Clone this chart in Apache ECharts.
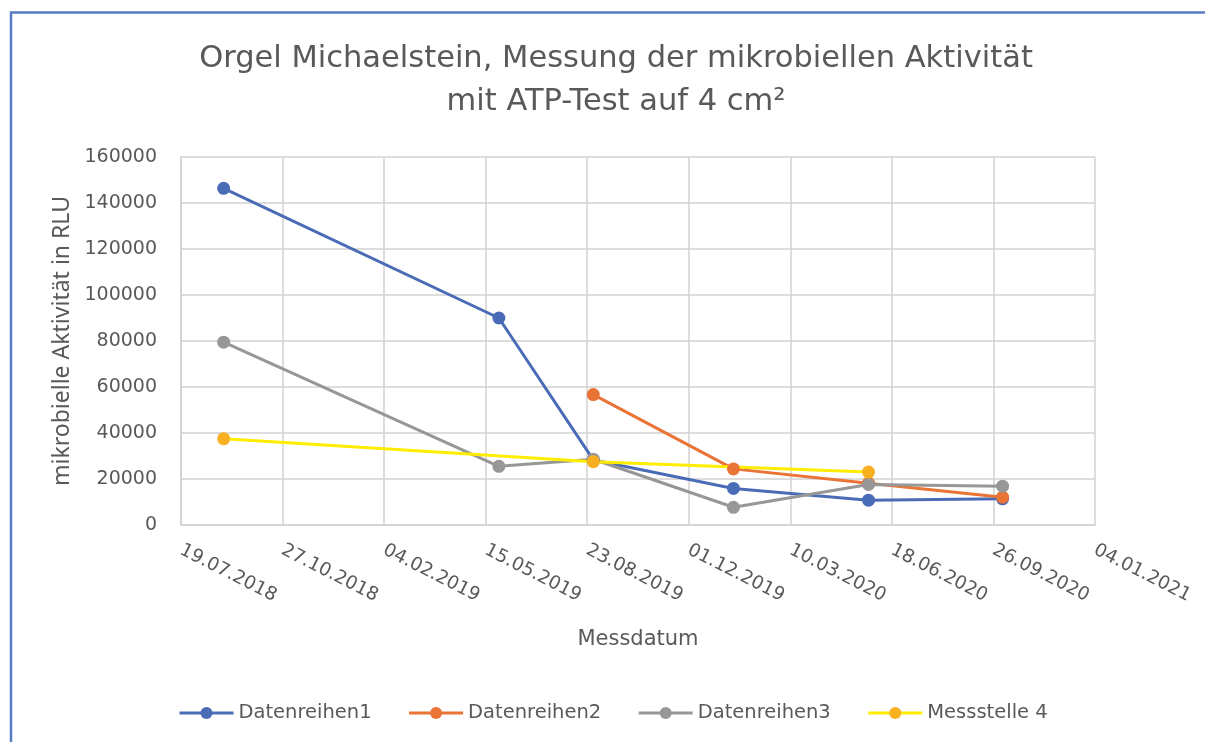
<!DOCTYPE html>
<html>
<head>
<meta charset="utf-8">
<title>Orgel Michaelstein – ATP-Test</title>
<script src="https://cdn.jsdelivr.net/npm/echarts@6/dist/echarts.min.js"></script>
<style>
  html, body { margin: 0; padding: 0; background: #ffffff; }
  #chart { width: 1205px; height: 742px; }
</style>
</head>
<body>
<div id="chart"></div>
<script>
// Measurement dates (DD.MM.YYYY) and RLU values per measuring series
const datesS1 = ['30.08.2018', '28.05.2019', '29.08.2019', '14.01.2020', '26.05.2020', '05.10.2020'];
const valuesS1 = [146400, 90000, 28300, 15900, 10800, 11400];

const datesS2 = ['29.08.2019', '14.01.2020', '26.05.2020', '05.10.2020'];
const valuesS2 = [56700, 24400, 18200, 12100];

const datesS3 = ['30.08.2018', '28.05.2019', '29.08.2019', '14.01.2020', '26.05.2020', '05.10.2020'];
const valuesS3 = [79500, 25500, 28600, 7700, 17600, 16900];

const datesS4 = ['30.08.2018', '29.08.2019', '26.05.2020'];
const valuesS4 = [37500, 27500, 23000];

const seriesNames = ['Datenreihen1', 'Datenreihen2', 'Datenreihen3', 'Messstelle 4'];

// Date axis range as spreadsheet serial day numbers (19.07.2018 = 43300)
const xMin = 43300, xMax = 44200, xStep = 100;
const yMin = 0, yMax = 160000, yStep = 20000;

const EPOCH = Date.UTC(1899, 11, 30);
const DAY = 86400000;
function toSerial(s) {
  const [d, m, y] = s.split('.').map(Number);
  return Math.round((Date.UTC(y, m - 1, d) - EPOCH) / DAY);
}
function fromSerial(n) {
  const dt = new Date(EPOCH + n * DAY);
  const p = v => String(v).padStart(2, '0');
  return p(dt.getUTCDate()) + '.' + p(dt.getUTCMonth() + 1) + '.' + dt.getUTCFullYear();
}
function pairs(dates, values) {
  return dates.map((d, i) => [toSerial(d), values[i]]);
}

const TXT = '#595959';
const GRID = '#d2d2d2';
const FONT = 'DejaVu Sans';
const FONT_V = 'Noto Sans';

function lineSeries(name, data, lineColor, markColor) {
  return {
    name: name,
    type: 'line',
    data: data,
    symbol: 'circle',
    symbolSize: 13,
    lineStyle: { color: lineColor, width: 3 },
    itemStyle: { color: markColor },
    emphasis: { disabled: true },
    z: 2
  };
}

const chart = echarts.init(document.getElementById('chart'), null, { renderer: 'canvas' });
chart.setOption({
  animation: false,
  backgroundColor: '#ffffff',
  textStyle: { fontFamily: FONT, color: TXT },
  title: {
    text: 'Orgel Michaelstein, Messung der mikrobiellen Aktivität\nmit ATP-Test auf 4 cm²',
    left: 611,
    top: 33,
    textAlign: 'center',
    textStyle: { fontFamily: FONT, fontSize: 30.5, fontWeight: 'normal', color: TXT, lineHeight: 43 }
  },
  legend: {
    data: seriesNames,
    bottom: 14,
    left: 173,
    itemWidth: 54,
    itemHeight: 15,
    itemGap: 36,
    lineStyle: { width: 3 },
    textStyle: { fontFamily: FONT, fontSize: 19.5, color: TXT }
  },
  grid: { left: 181, right: 110, top: 157, bottom: 217, containLabel: false },
  xAxis: {
    type: 'value',
    min: xMin, max: xMax, interval: xStep,
    name: 'Messdatum',
    nameLocation: 'middle',
    nameGap: 104,
    nameTextStyle: { fontFamily: FONT, fontSize: 21, color: TXT },
    axisLine: { show: true, lineStyle: { color: GRID, width: 1.5 } },
    axisTick: { show: false },
    splitLine: { show: true, lineStyle: { color: GRID, width: 1.5 } },
    axisLabel: {
      rotate: -27,
      margin: 24,
      fontFamily: FONT, fontSize: 18.5, color: TXT,
      showMinLabel: true, showMaxLabel: true,
      formatter: v => fromSerial(v)
    }
  },
  yAxis: {
    type: 'value',
    min: yMin, max: yMax, interval: yStep,
    name: 'mikrobielle Aktivität in RLU',
    nameLocation: 'middle',
    nameGap: 106,
    nameTextStyle: { fontFamily: FONT_V, fontSize: 23, color: TXT },
    axisLine: { show: true, lineStyle: { color: GRID, width: 1.5 } },
    axisTick: { show: false },
    splitLine: { show: true, lineStyle: { color: GRID, width: 1.5 } },
    axisLabel: { margin: 24, fontFamily: FONT, fontSize: 19, color: TXT, formatter: v => String(v) }
  },
  series: [
    lineSeries(seriesNames[0], pairs(datesS1, valuesS1), '#4a6cb6', '#4a6cb6'),
    lineSeries(seriesNames[1], pairs(datesS2, valuesS2), '#ea7436', '#ea7436'),
    lineSeries(seriesNames[2], pairs(datesS3, valuesS3), '#979797', '#979797'),
    lineSeries(seriesNames[3], pairs(datesS4, valuesS4), '#ffec00', '#f8b020')
  ],
  graphic: [
    {
      type: 'polyline',
      shape: { points: [[11, 742], [11, 12.5], [1205, 12.5]] },
      style: { stroke: '#5a7cc4', lineWidth: 2.5, fill: null },
      silent: true
    }
  ]
});
</script>
</body>
</html>
